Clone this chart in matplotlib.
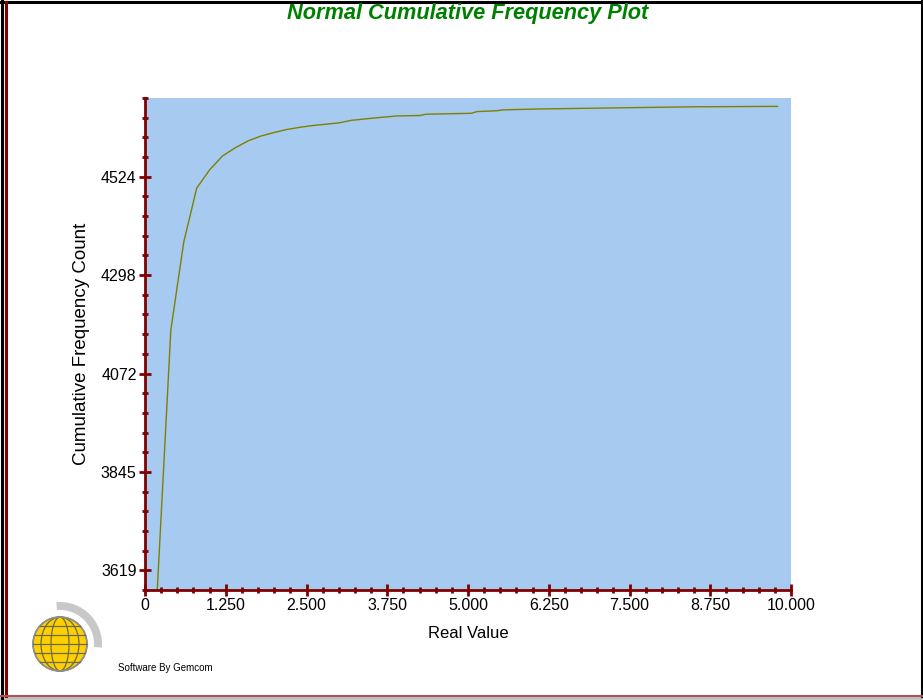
import numpy as np
import matplotlib
matplotlib.use('Agg')
import matplotlib.pyplot as plt
from matplotlib.patches import Circle, Ellipse, Wedge, Rectangle
from matplotlib.lines import Line2D

# data
real_value = [0.19, 0.40, 0.60, 0.80, 1.00, 1.20, 1.40, 1.60, 1.80, 2.00,
              2.20, 2.40, 2.60, 2.80, 3.00, 3.20, 3.40, 3.60, 3.90, 4.26,
              4.35, 5.05, 5.14, 5.45, 5.55, 6.10, 7.51, 8.51, 9.79]
cum_count = [3574, 4172, 4374, 4498, 4540, 4572, 4591, 4607, 4618, 4626,
             4633, 4638, 4642, 4645, 4648, 4654, 4657, 4660, 4664, 4665,
             4668, 4670, 4674, 4676, 4678, 4680, 4683, 4685, 4686]

x_ticks = [0, 1.25, 2.5, 3.75, 5.0, 6.25, 7.5, 8.75, 10.0]
x_tick_labels = ['0', '1.250', '2.500', '3.750', '5.000', '6.250', '7.500', '8.750', '10.000']
y_ticks = [3619.25, 3845.5, 4071.75, 4298.0, 4524.25]
y_tick_labels = ['3619', '3845', '4072', '4298', '4524']
y_range = [3574, 4705.25]

dark_red = '#800000'
font = 'Liberation Sans'

fig = plt.figure(figsize=(9.23, 7.0), dpi=100)
fig.patch.set_facecolor('white')

W, H = 923, 700
ax = fig.add_axes([145 / W, 110 / H, 646 / W, 492 / H])
ax.set_facecolor('#A6CAF0')
ax.plot(real_value, cum_count, color='#808000', lw=1.0)

ax.set_xlim(0, 10)
ax.set_ylim(*y_range)
ax.set_xticks(x_ticks)
ax.set_xticklabels(x_tick_labels)
ax.set_yticks(y_ticks)
ax.set_yticklabels(y_tick_labels)
ax.set_xticks(np.arange(0, 10.001, 0.25), minor=True)
ax.set_yticks(np.arange(y_range[0], y_range[1] + 1, 45.25), minor=True)

for s in ['top', 'right']:
    ax.spines[s].set_visible(False)
for s in ['left', 'bottom']:
    ax.spines[s].set_color(dark_red)
    ax.spines[s].set_linewidth(2)

ax.tick_params(which='major', direction='inout', length=8, width=2, color=dark_red,
               labelsize=11.5, pad=2)
ax.tick_params(which='minor', direction='inout', length=5, width=2, color=dark_red)
for lab in ax.get_xticklabels() + ax.get_yticklabels():
    lab.set_family(font)

ax.set_xlabel('Real Value', family=font, fontsize=12, labelpad=9)
ax.set_ylabel('Cumulative Frequency Count', family=font, fontsize=13.5, labelpad=8)

fig.text(468 / W, 1 - 14 / H, 'Normal Cumulative Frequency Plot', family=font,
         fontsize=15.7, fontweight='bold', fontstyle='italic', color='#008000',
         ha='center', va='center')

fig.text(118 / W, 1 - 668 / H, 'Software By Gemcom', family=font, fontsize=7,
         ha='left', va='center')

# window frame
def hline(y, x0, x1, c, lw):
    fig.add_artist(Line2D([x0 / W, x1 / W], [1 - y / H, 1 - y / H], color=c, lw=lw))

def vline(x, y0, y1, c, lw):
    fig.add_artist(Line2D([x / W, x / W], [1 - y0 / H, 1 - y1 / H], color=c, lw=lw))

hline(1.5, 0, 923, 'black', 2.2)
vline(1.5, 0, 700, 'black', 2.2)
vline(5.5, 2, 696, dark_red, 2.2)
vline(921.5, 0, 696, 'black', 2.2)
fig.add_artist(Rectangle((0, 0), 1, 4 / H, transform=fig.transFigure,
                         color='#c0c0c0', lw=0))
hline(695.5, 0, 923, '#b05050', 1.5)

# logo (pixel coords inside a small box)
lg = fig.add_axes([28 / W, 1 - 680 / H, 78 / W, 78 / H])
lg.set_xlim(0, 78)
lg.set_ylim(0, 78)
lg.set_aspect('equal')
lg.axis('off')
cx, cy, r = 32, 36, 27
lg.add_patch(Wedge((cx, cy), 42, -5, 95, width=8, color='#c8c8c8', lw=0))
lg.add_patch(Circle((cx, cy), r, color='#ffd000', lw=0))
for w in [54, 38, 18]:
    lg.add_patch(Ellipse((cx, cy), w, 2 * r, fill=False, ec='#6a6a50', lw=0.9))
for dy in [-18, -9, 0, 9, 18]:
    half = np.sqrt(max(r ** 2 - dy ** 2, 0))
    lg.plot([cx - half, cx + half], [cy + dy, cy + dy], color='#6a6a50', lw=0.9)
lg.add_patch(Circle((cx, cy), r, fill=False, ec='#909090', lw=1.2))

fig.savefig('out.png', dpi=100)
